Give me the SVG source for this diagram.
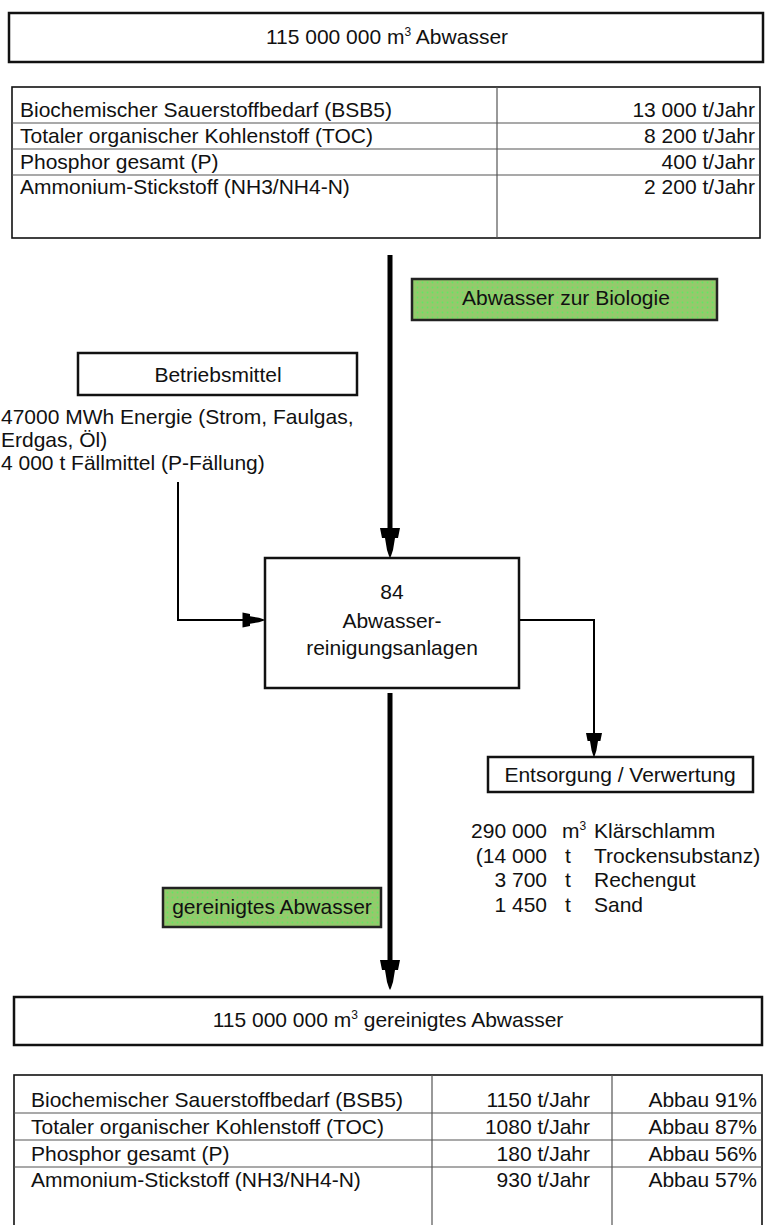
<svg xmlns="http://www.w3.org/2000/svg" xmlns:xlink="http://www.w3.org/1999/xlink" width="768" height="1225" viewBox="0 0 768 1225">
<style>
text{font-family:"Liberation Sans",Arial,sans-serif;font-size:21px;fill:#111}
.c{text-anchor:middle}
.r{text-anchor:end}
.box{fill:#fff;stroke:#111;stroke-width:2.5}
.tbl{fill:#fff;stroke:#111;stroke-width:1.6}
.grid{stroke:#555;stroke-width:1.2}
.green{fill:url(#dots);stroke:#222;stroke-width:2.5}
.thick{stroke:#000;stroke-width:5;fill:none}
.thin{stroke:#000;stroke-width:2;fill:none}
.sup{font-size:12px}
</style>
<defs>
<pattern id="dots" width="5" height="5" patternUnits="userSpaceOnUse">
<rect width="5" height="5" fill="#94ca6c"/>
<circle cx="2.5" cy="2.5" r="0.9" fill="#62e862"/>
</pattern>
<path id="ah" d="M-10,-30 H10 L8,-20 H5 L3,-8 L1,-2 L0,0 L-1,-2 L-3,-8 L-5,-20 H-8 Z" fill="#000"/>
</defs>

<g id="input-box">
<rect class="box" x="9" y="13" width="754" height="49"/>
<text class="c" x="387" y="44">115 000 000 m<tspan class="sup" dy="-8">3</tspan><tspan dy="8"> Abwasser</tspan></text>
</g>

<g id="input-table">
<rect class="tbl" x="12" y="87" width="748" height="151"/>
<line class="grid" x1="497" y1="87" x2="497" y2="238"/>
<line class="grid" x1="12" y1="123" x2="760" y2="123"/>
<line class="grid" x1="12" y1="149" x2="760" y2="149"/>
<line class="grid" x1="12" y1="175" x2="760" y2="175"/>
<text x="20" y="117">Biochemischer Sauerstoffbedarf (BSB5)</text>
<text x="20" y="143">Totaler organischer Kohlenstoff (TOC)</text>
<text x="20" y="169">Phosphor gesamt (P)</text>
<text x="20" y="194">Ammonium-Stickstoff (NH3/NH4-N)</text>
<text class="r" x="755" y="117">13 000 t/Jahr</text>
<text class="r" x="755" y="143">8 200 t/Jahr</text>
<text class="r" x="755" y="169">400 t/Jahr</text>
<text class="r" x="755" y="194">2 200 t/Jahr</text>
</g>

<g id="label-biologie">
<rect class="green" x="412" y="279" width="305" height="41"/>
<text class="c" x="566" y="305">Abwasser zur Biologie</text>
</g>

<g id="betriebsmittel">
<rect class="box" x="78" y="353" width="279" height="42"/>
<text class="c" x="218" y="382">Betriebsmittel</text>
<text x="1" y="424">47000 MWh Energie (Strom, Faulgas,</text>
<text x="1" y="447">Erdgas, Öl)</text>
<text x="1" y="470">4 000 t Fällmittel (P-Fällung)</text>
</g>

<g id="ara">
<rect class="box" x="265" y="558" width="254" height="130"/>
<text class="c" x="392" y="599">84</text>
<text class="c" x="392" y="628">Abwasser-</text>
<text class="c" x="392" y="655">reinigungsanlagen</text>
</g>

<g id="entsorgung">
<rect class="box" x="488" y="757" width="265" height="35"/>
<text class="c" x="620" y="782">Entsorgung / Verwertung</text>
<text class="r" x="547" y="838">290 000</text>
<text x="562" y="838">m<tspan class="sup" dy="-8">3</tspan></text>
<text x="594" y="838">Klärschlamm</text>
<text class="r" x="547" y="863">(14 000</text>
<text x="565" y="863">t</text>
<text x="594" y="863">Trockensubstanz)</text>
<text class="r" x="547" y="887">3 700</text>
<text x="565" y="887">t</text>
<text x="594" y="887">Rechengut</text>
<text class="r" x="547" y="912">1 450</text>
<text x="565" y="912">t</text>
<text x="594" y="912">Sand</text>
</g>

<g id="label-gereinigt">
<rect class="green" x="163" y="888" width="218" height="39"/>
<text class="c" x="272" y="914">gereinigtes Abwasser</text>
</g>

<g id="output-box">
<rect class="box" x="14" y="997" width="748" height="48"/>
<text class="c" x="388" y="1027">115 000 000 m<tspan class="sup" dy="-8">3</tspan><tspan dy="8"> gereinigtes Abwasser</tspan></text>
</g>

<g id="output-table">
<rect class="tbl" x="14" y="1075" width="748" height="160"/>
<line class="grid" x1="432" y1="1075" x2="432" y2="1225"/>
<line class="grid" x1="612" y1="1075" x2="612" y2="1225"/>
<line class="grid" x1="14" y1="1113" x2="762" y2="1113"/>
<line class="grid" x1="14" y1="1140" x2="762" y2="1140"/>
<line class="grid" x1="14" y1="1167" x2="762" y2="1167"/>
<text x="31" y="1107">Biochemischer Sauerstoffbedarf (BSB5)</text>
<text x="31" y="1134">Totaler organischer Kohlenstoff (TOC)</text>
<text x="31" y="1161">Phosphor gesamt (P)</text>
<text x="31" y="1187">Ammonium-Stickstoff (NH3/NH4-N)</text>
<text class="r" x="590" y="1107">1150 t/Jahr</text>
<text class="r" x="590" y="1134">1080 t/Jahr</text>
<text class="r" x="590" y="1161">180 t/Jahr</text>
<text class="r" x="590" y="1187">930 t/Jahr</text>
<text class="r" x="757" y="1107">Abbau 91%</text>
<text class="r" x="757" y="1134">Abbau 87%</text>
<text class="r" x="757" y="1161">Abbau 56%</text>
<text class="r" x="757" y="1187">Abbau 57%</text>
</g>

<g id="connectors">
<line class="thick" x1="390" y1="255" x2="390" y2="535"/>
<use xlink:href="#ah" transform="translate(390,558)"/>
<polyline class="thin" points="178,482 178,620 250,620"/>
<use xlink:href="#ah" transform="translate(265,620) rotate(-90) scale(0.75)"/>
<polyline class="thin" points="520,620 594,620 594,735"/>
<use xlink:href="#ah" transform="translate(594,757) scale(0.8)"/>
<line class="thick" x1="390" y1="693" x2="390" y2="965"/>
<use xlink:href="#ah" transform="translate(390,990)"/>
</g>
</svg>
